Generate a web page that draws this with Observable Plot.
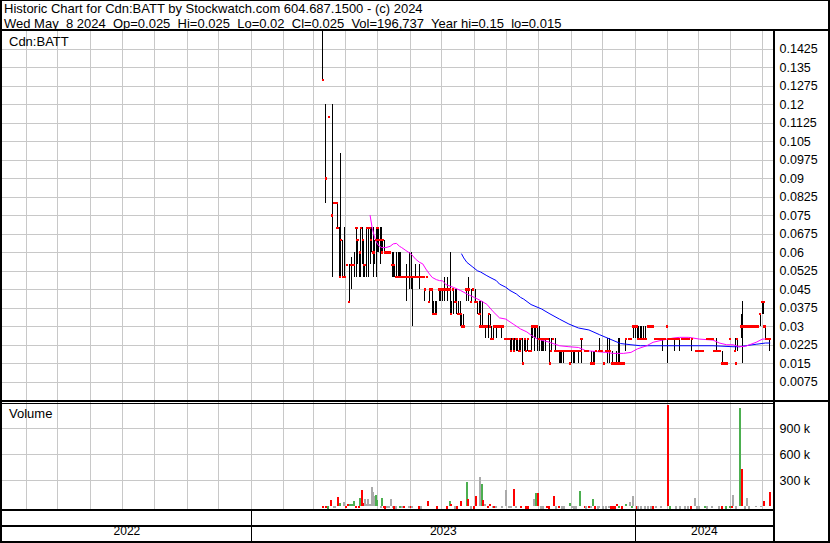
<!DOCTYPE html>
<html><head><meta charset="utf-8">
<script src="https://cdn.jsdelivr.net/npm/d3@7"></script>
<script src="https://cdn.jsdelivr.net/npm/@observablehq/plot@0.6"></script>
<style>
html,body{margin:0;padding:0;background:#fff;}
#chart{position:relative;width:830px;height:543px;overflow:hidden;font-family:Arial,"Liberation Sans",sans-serif;color:#000;background:#fff;}
#chart svg{position:absolute;left:0;top:0;}
.b{position:absolute;background:#000;z-index:5;}
.t{position:absolute;font-size:13px;line-height:15px;white-space:pre;z-index:6;}
</style></head><body>
<div id="chart">
<div class="t" style="left:4px;top:1px">Historic Chart for Cdn:BATT by Stockwatch.com 604.687.1500 - (c) 2024
Wed May  8 2024  Op=0.025  Hi=0.025  Lo=0.02  Cl=0.025  Vol=196,737  Year hi=0.15  lo=0.015</div>
<div class="t" style="left:9px;top:34px">Cdn:BATT</div>
<div class="t" style="left:9px;top:406px">Volume</div>
<div class="b" style="left:0;top:0;width:830px;height:1px"></div>
<div class="b" style="left:0;top:0;width:2px;height:543px"></div>
<div class="b" style="left:828px;top:0;width:2px;height:543px"></div>
<div class="b" style="left:0;top:541px;width:830px;height:2px"></div>
<div class="b" style="left:0;top:29px;width:830px;height:2px"></div>
<div class="b" style="left:773px;top:29px;width:2px;height:514px"></div>
<div class="b" style="left:0;top:400px;width:830px;height:2px"></div>
<div class="b" style="left:0;top:403px;width:773px;height:1px"></div>
<div class="b" style="left:0;top:509px;width:773px;height:2px"></div>
<div class="b" style="left:0;top:525px;width:773px;height:2px"></div>
</div>
<script>
// ---------- data ----------
const yTicks = [0.0075,0.015,0.0225,0.03,0.0375,0.045,0.0525,0.06,0.0675,0.075,0.0825,0.09,0.0975,0.105,0.1125,0.12,0.1275,0.135,0.1425];
const volTicks = [300000,600000,900000];
const yearLabels = ["2022","2023","2024"];
const yearStarts = ["2023-01-01","2024-01-01"];
const chartSpan = ["2022-05-09T12:00Z","2024-05-11T12:00Z"];

// [date, high, low, close]
const priceBars = [
["2023-03-10",.15,.13,.13],["2023-03-13",.12,.08,.09],["2023-03-16",.115,.115,.115],["2023-03-19",.12,.05,.075],
["2023-03-21",.08,.08,.08],["2023-03-23",.08,.08,.08],["2023-03-24",.08,.07,.07],["2023-03-26",.07,.05,.05],
["2023-03-27",.10,.05,.065],["2023-03-29",.065,.05,.05],["2023-03-31",.07,.05,.05],["2023-04-02",.055,.055,.055],
["2023-04-04",.055,.04,.04],["2023-04-06",.058,.045,.055],["2023-04-07",.055,.055,.055],["2023-04-09",.06,.05,.055],
["2023-04-11",.07,.05,.07],["2023-04-12",.065,.055,.065],["2023-04-14",.06,.05,.06],["2023-04-15",.07,.05,.07],
["2023-04-17",.07,.055,.065],["2023-04-18",.065,.05,.055],["2023-04-19",.055,.05,.055],["2023-04-21",.07,.05,.07],
["2023-04-22",.07,.05,.07],["2023-04-24",.07,.055,.07],["2023-04-25",.07,.06,.065],["2023-04-27",.07,.05,.06],
["2023-04-28",.065,.055,.06],["2023-04-30",.07,.05,.065],["2023-05-01",.07,.06,.07],["2023-05-02",.07,.06,.065],
["2023-05-04",.07,.055,.065],["2023-05-05",.07,.06,.06],["2023-05-06",.065,.06,.065],["2023-05-08",.065,.06,.06],
["2023-05-10",.06,.06,.06],["2023-05-11",.06,.06,.06],["2023-05-13",.06,.06,.06],["2023-05-15",.06,.05,.055],
["2023-05-16",.06,.05,.055],["2023-05-17",.055,.05,.055],["2023-05-19",.06,.05,.05],["2023-05-21",.06,.05,.05],
["2023-05-22",.06,.05,.05],["2023-05-23",.06,.05,.05],["2023-05-25",.05,.05,.05],["2023-05-27",.05,.05,.05],
["2023-05-29",.055,.04,.05],["2023-05-30",.05,.05,.05],["2023-05-31",.06,.045,.05],["2023-06-02",.06,.045,.05],
["2023-06-03",.05,.03,.05],["2023-06-05",.05,.05,.05],["2023-06-06",.055,.05,.05],["2023-06-08",.05,.05,.05],
["2023-06-10",.055,.045,.05],["2023-06-12",.05,.05,.05],["2023-06-14",.05,.05,.05],["2023-06-15",.045,.04,.045],
["2023-06-17",.05,.05,.05],["2023-06-19",.045,.04,.04],["2023-06-20",.045,.045,.045],["2023-06-22",.045,.035,.045],
["2023-06-23",.04,.035,.035],["2023-06-25",.04,.035,.035],["2023-06-26",.04,.035,.035],["2023-06-29",.045,.04,.045],
["2023-06-30",.045,.04,.045],["2023-07-02",.045,.04,.045],["2023-07-04",.05,.04,.045],["2023-07-05",.045,.045,.045],
["2023-07-07",.05,.04,.045],["2023-07-09",.06,.035,.045],["2023-07-10",.04,.035,.035],["2023-07-12",.045,.035,.045],
["2023-07-14",.045,.04,.04],["2023-07-15",.045,.035,.04],["2023-07-17",.04,.035,.035],["2023-07-19",.04,.03,.035],
["2023-07-20",.035,.03,.03],["2023-07-22",.035,.03,.03],["2023-07-24",.045,.045,.045],["2023-07-25",.045,.04,.045],
["2023-07-27",.05,.04,.045],["2023-07-29",.045,.04,.04],["2023-07-31",.045,.045,.045],["2023-08-02",.045,.04,.04],
["2023-08-04",.04,.035,.04],["2023-08-06",.04,.035,.035],["2023-08-07",.04,.03,.03],["2023-08-09",.04,.03,.03],
["2023-08-10",.03,.03,.03],["2023-08-12",.03,.025,.03],["2023-08-13",.03,.03,.03],["2023-08-15",.035,.025,.035],
["2023-08-16",.035,.03,.03],["2023-08-17",.03,.025,.025],["2023-08-19",.03,.025,.025],["2023-08-20",.03,.03,.03],
["2023-08-22",.03,.025,.03],["2023-08-23",.03,.03,.03],["2023-08-25",.03,.03,.03],["2023-08-27",.03,.025,.03],
["2023-08-28",.03,.03,.03],["2023-08-30",.025,.025,.025],["2023-08-31",.025,.025,.025],["2023-09-02",.025,.025,.025],
["2023-09-04",.025,.02,.025],["2023-09-05",.025,.02,.02],["2023-09-07",.025,.02,.025],["2023-09-08",.025,.02,.02],
["2023-09-10",.025,.02,.025],["2023-09-11",.025,.02,.025],["2023-09-13",.025,.02,.02],["2023-09-14",.025,.02,.025],
["2023-09-16",.025,.015,.015],["2023-09-18",.025,.02,.025],["2023-09-19",.025,.02,.02],["2023-09-21",.025,.02,.025],
["2023-09-22",.02,.02,.02],["2023-09-24",.03,.02,.02],["2023-09-25",.03,.025,.03],["2023-09-27",.03,.02,.03],
["2023-09-28",.03,.025,.03],["2023-09-30",.03,.02,.03],["2023-10-02",.03,.02,.025],["2023-10-04",.025,.02,.025],
["2023-10-05",.025,.02,.025],["2023-10-06",.025,.02,.025],["2023-10-08",.025,.02,.025],["2023-10-10",.025,.025,.025],
["2023-10-12",.025,.015,.015],["2023-10-13",.025,.02,.02],["2023-10-15",.025,.025,.025],["2023-10-17",.025,.02,.02],
["2023-10-19",.02,.02,.02],["2023-10-21",.02,.015,.02],["2023-10-22",.02,.015,.02],["2023-10-23",.02,.015,.02],
["2023-10-25",.02,.015,.02],["2023-10-26",.02,.02,.02],["2023-10-28",.02,.02,.02],["2023-10-30",.02,.02,.02],
["2023-10-31",.015,.015,.015],["2023-11-01",.02,.015,.02],["2023-11-03",.02,.015,.02],["2023-11-04",.02,.015,.02],
["2023-11-06",.02,.02,.02],["2023-11-08",.02,.015,.02],["2023-11-10",.02,.02,.02],["2023-11-11",.025,.015,.025],
["2023-11-14",.02,.02,.02],["2023-11-15",.02,.02,.02],["2023-11-17",.02,.02,.02],["2023-11-20",.02,.015,.015],
["2023-11-22",.02,.015,.015],["2023-11-23",.02,.015,.015],["2023-11-25",.02,.02,.02],["2023-11-28",.025,.02,.02],
["2023-11-30",.02,.02,.02],["2023-12-02",.015,.015,.015],["2023-12-04",.02,.02,.02],["2023-12-06",.025,.015,.02],
["2023-12-08",.025,.015,.02],["2023-12-10",.02,.015,.015],["2023-12-12",.015,.015,.015],["2023-12-14",.02,.015,.015],
["2023-12-16",.025,.015,.015],["2023-12-17",.025,.015,.015],["2023-12-19",.015,.015,.015],["2023-12-21",.015,.015,.015],
["2023-12-23",.025,.02,.025],["2023-12-26",.025,.025,.025],["2023-12-28",.025,.025,.025],["2023-12-30",.03,.025,.03],
["2024-01-01",.03,.025,.03],["2024-01-03",.03,.025,.03],["2024-01-04",.03,.025,.025],["2024-01-06",.03,.025,.025],
["2024-01-07",.03,.025,.025],["2024-01-09",.03,.025,.025],["2024-01-11",.03,.025,.025],["2024-01-13",.03,.03,.03],
["2024-01-15",.03,.03,.03],["2024-01-16",.03,.03,.03],["2024-01-18",.03,.03,.03],["2024-01-20",.025,.025,.025],
["2024-01-22",.025,.025,.025],["2024-01-24",.025,.025,.025],["2024-01-26",.025,.025,.025],["2024-01-27",.025,.02,.025],
["2024-01-29",.025,.025,.025],["2024-01-31",.03,.03,.03],["2024-02-01",.025,.015,.025],["2024-02-03",.025,.025,.025],
["2024-02-05",.025,.025,.025],["2024-02-07",.025,.02,.025],["2024-02-08",.025,.025,.025],["2024-02-10",.025,.025,.025],
["2024-02-12",.025,.02,.025],["2024-02-15",.025,.025,.025],["2024-02-17",.025,.025,.025],["2024-02-19",.025,.025,.025],
["2024-02-21",.025,.025,.025],["2024-02-24",.025,.02,.025],["2024-02-28",.02,.02,.02],["2024-03-01",.02,.02,.02],
["2024-03-03",.02,.02,.02],["2024-03-05",.02,.02,.02],["2024-03-09",.025,.025,.025],["2024-03-11",.025,.025,.025],
["2024-03-13",.025,.025,.025],["2024-03-15",.025,.025,.025],["2024-03-16",.02,.02,.02],["2024-03-18",.025,.02,.02],
["2024-03-20",.02,.02,.02],["2024-03-22",.02,.02,.02],["2024-03-24",.02,.015,.015],["2024-03-26",.015,.015,.015],
["2024-03-28",.015,.015,.015],["2024-03-31",.025,.025,.025],["2024-04-05",.025,.02,.02],["2024-04-06",.015,.015,.015],
["2024-04-07",.025,.02,.025],["2024-04-11",.035,.025,.03],["2024-04-12",.04,.015,.03],["2024-04-14",.03,.03,.03],
["2024-04-16",.03,.03,.03],["2024-04-18",.03,.03,.03],["2024-04-20",.03,.03,.03],["2024-04-22",.03,.03,.03],
["2024-04-23",.03,.03,.03],["2024-04-25",.03,.03,.03],["2024-04-27",.03,.03,.03],["2024-04-29",.035,.03,.035],
["2024-05-01",.04,.035,.04],["2024-05-02",.04,.035,.04],["2024-05-03",.03,.03,.03],["2024-05-04",.03,.025,.025],
["2024-05-06",.025,.025,.025],["2024-05-08",.025,.02,.025]
];

// short moving average (magenta) [date, value]
const maShort = [
["2023-04-24",.075],["2023-04-26",.0698],["2023-04-29",.065],["2023-05-02",.0628],["2023-05-05",.062],["2023-05-09",.062],
["2023-05-13",.0625],["2023-05-16",.0635],["2023-05-19",.0637],["2023-05-22",.0625],["2023-05-24",.062],["2023-05-28",.0608],
["2023-06-02",.0594],["2023-06-06",.0574],["2023-06-10",.056],["2023-06-13",.0554],["2023-06-16",.0533],["2023-06-19",.0515],
["2023-06-22",.0499],["2023-06-26",.049],["2023-06-29",.0486],["2023-07-02",.0485],["2023-07-05",.047],["2023-07-12",.0459],
["2023-07-19",.0446],["2023-07-25",.0432],["2023-08-01",.0418],["2023-08-07",.0405],["2023-08-13",.039],["2023-08-19",.036],
["2023-08-25",.0335],["2023-08-31",.033],["2023-09-07",.031],["2023-09-14",.029],["2023-09-20",.0278],["2023-09-24",.0265],
["2023-09-30",.0249],["2023-10-10",.0238],["2023-10-21",.0222],["2023-10-30",.0218],["2023-11-08",.0215],["2023-11-15",.0202],
["2023-11-21",.02],["2023-12-04",.0195],["2023-12-11",.0191],["2023-12-21",.0191],["2023-12-28",.0195],["2024-01-03",.0209],
["2024-01-12",.0222],["2024-01-18",.0236],["2024-01-27",.0245],["2024-02-06",.0253],["2024-02-12",.0256],["2024-02-21",.0256],
["2024-03-02",.0249],["2024-03-15",.0245],["2024-03-21",.0233],["2024-03-28",.0226],["2024-04-03",.0226],["2024-04-09",.0218],
["2024-04-15",.022],["2024-04-25",.0236],["2024-05-01",.0249],["2024-05-08",.0249]
];

// long moving average (blue) [date, value]
const maLong = [
["2023-07-20",.0594],["2023-07-22",.0578],["2023-07-25",.056],["2023-07-30",.0543],["2023-08-04",.0526],["2023-08-07",.0521],
["2023-08-13",.0506],["2023-08-16",.0499],["2023-08-22",.0486],["2023-08-25",.0472],["2023-08-31",.0459],["2023-09-04",.0446],
["2023-09-10",.0432],["2023-09-14",.0418],["2023-09-17",.0411],["2023-09-24",.0389],["2023-10-04",.0371],["2023-10-12",.0351],
["2023-10-21",.033],["2023-10-30",.031],["2023-11-08",.0294],["2023-11-18",.0286],["2023-11-28",.0267],["2023-12-08",.0249],
["2023-12-18",.0231],["2023-12-28",.0226],["2024-01-06",.0222],["2024-01-15",.0222],["2024-02-12",.0222],["2024-03-15",.0222],
["2024-04-03",.0218],["2024-04-09",.0218],["2024-04-15",.0222],["2024-04-25",.0228],["2024-05-04",.0233],["2024-05-08",.0233]
];

// [date, volume, direction]
const volumeBars = [
["2023-03-09",27000,"up"],["2023-03-10",5000,"down"],["2023-03-13",5000,"down"],["2023-03-15",3000,"up"],["2023-03-18",96000,"down"],
["2023-03-21",10000,"flat"],["2023-03-22",10000,"flat"],["2023-03-24",131000,"down"],["2023-03-26",62000,"up"],["2023-03-28",38000,"down"],
["2023-03-30",73000,"flat"],["2023-04-01",5000,"down"],["2023-04-03",50000,"down"],["2023-04-05",50000,"up"],["2023-04-07",54000,"up"],
["2023-04-09",85000,"up"],["2023-04-11",15000,"down"],["2023-04-13",8000,"down"],["2023-04-14",119000,"up"],["2023-04-15",119000,"up"],
["2023-04-16",219000,"down"],["2023-04-18",62000,"down"],["2023-04-19",112000,"flat"],["2023-04-21",54000,"flat"],["2023-04-22",112000,"flat"],
["2023-04-24",54000,"flat"],["2023-04-26",246000,"flat"],["2023-04-27",196000,"flat"],["2023-04-28",150000,"flat"],["2023-04-30",165000,"up"],
["2023-05-01",104000,"up"],["2023-05-03",35000,"down"],["2023-05-04",15000,"flat"],["2023-05-05",119000,"up"],["2023-05-07",5000,"down"],
["2023-05-08",3000,"down"],["2023-05-10",5000,"flat"],["2023-05-12",5000,"flat"],["2023-05-14",108000,"flat"],["2023-05-16",5000,"flat"],
["2023-05-17",3000,"down"],["2023-05-19",3000,"flat"],["2023-05-22",7000,"up"],["2023-05-24",15000,"flat"],["2023-05-26",5000,"down"],
["2023-05-28",27000,"up"],["2023-05-31",5000,"flat"],["2023-06-02",5000,"down"],["2023-06-03",5000,"flat"],["2023-06-09",3000,"down"],
["2023-06-11",3000,"flat"],["2023-06-18",88000,"down"],["2023-06-21",38000,"down"],["2023-06-24",38000,"flat"],["2023-06-27",3000,"down"],
["2023-07-03",31000,"up"],["2023-07-06",3000,"down"],["2023-07-09",85000,"up"],["2023-07-10",54000,"down"],["2023-07-14",3000,"flat"],
["2023-07-16",3000,"down"],["2023-07-19",85000,"down"],["2023-07-22",35000,"down"],["2023-07-23",27000,"flat"],["2023-07-25",315000,"up"],
["2023-07-26",108000,"down"],["2023-07-29",3000,"flat"],["2023-08-01",3000,"down"],["2023-08-03",142000,"down"],["2023-08-06",362000,"flat"],
["2023-08-08",281000,"up"],["2023-08-09",96000,"down"],["2023-08-11",54000,"flat"],["2023-08-12",27000,"flat"],["2023-08-14",5000,"down"],
["2023-08-16",54000,"down"],["2023-08-19",8000,"flat"],["2023-08-20",15000,"down"],["2023-08-22",5000,"flat"],["2023-08-25",35000,"down"],
["2023-08-27",15000,"flat"],["2023-08-29",31000,"down"],["2023-08-31",212000,"flat"],["2023-09-03",15000,"flat"],["2023-09-05",5000,"flat"],
["2023-09-08",223000,"down"],["2023-09-10",5000,"flat"],["2023-09-12",27000,"flat"],["2023-09-14",5000,"down"],["2023-09-16",27000,"up"],
["2023-09-19",3000,"down"],["2023-09-21",3000,"down"],["2023-09-24",31000,"up"],["2023-09-27",112000,"flat"],["2023-09-29",188000,"up"],
["2023-10-01",188000,"down"],["2023-10-03",3000,"flat"],["2023-10-05",3000,"flat"],["2023-10-09",5000,"down"],["2023-10-11",3000,"down"],
["2023-10-16",142000,"down"],["2023-10-18",3000,"flat"],["2023-10-21",5000,"down"],["2023-10-23",3000,"flat"],["2023-10-25",3000,"flat"],
["2023-10-31",62000,"up"],["2023-11-02",5000,"flat"],["2023-11-04",3000,"flat"],["2023-11-06",3000,"flat"],["2023-11-10",200000,"up"],
["2023-11-14",15000,"down"],["2023-11-15",3000,"flat"],["2023-11-18",15000,"down"],["2023-11-20",5000,"flat"],["2023-11-22",108000,"up"],
["2023-11-24",3000,"down"],["2023-11-27",3000,"flat"],["2023-11-28",5000,"flat"],["2023-12-01",3000,"flat"],["2023-12-04",3000,"flat"],
["2023-12-07",5000,"flat"],["2023-12-09",3000,"down"],["2023-12-11",3000,"down"],["2023-12-13",3000,"down"],["2023-12-15",50000,"down"],
["2023-12-17",5000,"up"],["2023-12-19",3000,"down"],["2023-12-23",50000,"up"],["2023-12-27",73000,"flat"],["2023-12-29",15000,"up"],
["2023-12-30",142000,"flat"],["2024-01-03",3000,"down"],["2024-01-04",3000,"flat"],["2024-01-07",2000,"flat"],["2024-01-10",2000,"flat"],
["2024-01-13",2000,"flat"],["2024-01-16",3000,"flat"],["2024-01-18",3000,"down"],["2024-01-21",5000,"flat"],["2024-01-24",35000,"flat"],
["2024-01-26",15000,"flat"],["2024-02-01",1200000,"down"],["2024-02-03",3000,"up"],["2024-02-07",38000,"down"],["2024-02-09",2000,"flat"],
["2024-02-13",2000,"flat"],["2024-02-17",2000,"flat"],["2024-02-20",2000,"flat"],["2024-02-23",2000,"down"],["2024-02-27",119000,"flat"],
["2024-02-29",3000,"flat"],["2024-03-02",2000,"flat"],["2024-03-07",5000,"up"],["2024-03-09",2000,"flat"],["2024-03-14",5000,"flat"],
["2024-03-18",27000,"flat"],["2024-03-21",3000,"flat"],["2024-03-24",3000,"down"],["2024-03-27",2000,"up"],["2024-03-31",5000,"up"],
["2024-04-02",5000,"down"],["2024-04-03",154000,"flat"],["2024-04-06",3000,"flat"],["2024-04-10",1158000,"up"],["2024-04-12",458000,"down"],
["2024-04-14",2000,"flat"],["2024-04-16",119000,"flat"],["2024-04-18",2000,"flat"],["2024-04-23",27000,"flat"],["2024-04-25",23000,"flat"],
["2024-04-28",27000,"flat"],["2024-04-30",23000,"flat"],["2024-05-02",85000,"down"],["2024-05-04",27000,"up"],["2024-05-08",197000,"down"]
];

// ---------- drawing ----------
const D = s => new Date(s);
const xDomain = chartSpan.map(D);
const months = d3.utcMonth.range(xDomain[0], xDomain[1]);
const bars = priceBars.map(([d,h,l,c]) => ({date: D(d), hi: h, lo: l, cl: c}));
const shortLine = maShort.map(([d,v]) => ({date: D(d), v}));
const longLine = maLong.map(([d,v]) => ({date: D(d), v}));
const vols = volumeBars.map(([d,v,dir]) => ({date: D(d), vol: v, dir}));
const fmtP = d => String(+d.toFixed(4));
const grid = "#c8c8c8";
const baseStyle = {background: "transparent", fontFamily: "Arial, 'Liberation Sans', sans-serif", fontSize: "12.5px", color: "#000", overflow: "visible"};
const common = {width: 830, height: 543, marginLeft: 2, marginRight: 57, style: baseStyle};
const xOpt = {type: "utc", domain: xDomain, axis: null};

const price = Plot.plot({
  ...common, marginTop: 30, marginBottom: 143,
  x: xOpt,
  y: {domain: [0, 0.15], axis: "right", ticks: yTicks, tickFormat: fmtP, tickSize: 0, tickPadding: 6, label: null},
  marks: [
    Plot.ruleY(yTicks, {stroke: grid, shapeRendering: "crispEdges"}),
    Plot.ruleX(months, {stroke: grid, shapeRendering: "crispEdges"}),
    Plot.ruleX(bars, {x: "date", y1: "lo", y2: "hi", stroke: "#000", strokeWidth: 1, shapeRendering: "crispEdges"}),
    Plot.line(longLine, {x: "date", y: "v", stroke: "#0000ff", strokeWidth: 1}),
    Plot.line(shortLine, {x: "date", y: "v", stroke: "#ff00ff", strokeWidth: 1}),
    Plot.dot(bars, {x: "date", y: "cl", symbol: "square", r: 1.2, fill: "#ff0000", stroke: "none", shapeRendering: "crispEdges"})
  ]
});

const volume = Plot.plot({
  ...common, marginTop: 402.3, marginBottom: 36.7,
  x: xOpt,
  y: {domain: [0, 1200000], axis: "right", ticks: volTicks, tickFormat: d => (d / 1000) + " k", tickSize: 0, tickPadding: 6, label: null},
  color: {domain: ["up", "down", "flat"], range: ["#4caf50", "#ff0000", "#aaaaaa"]},
  marks: [
    Plot.ruleY(volTicks, {stroke: grid, shapeRendering: "crispEdges"}),
    Plot.ruleX(months, {stroke: grid, insetBottom: -3, shapeRendering: "crispEdges"}),
    Plot.ruleX(vols, {x: "date", y1: 0, y2: "vol", stroke: "dir", strokeWidth: 2, insetBottom: -2.5, shapeRendering: "crispEdges"})
  ]
});

const bounds = [xDomain[0], ...yearStarts.map(D), xDomain[1]];
const yearText = yearLabels.map((t, i) => ({t, date: new Date((+bounds[i] + +bounds[i + 1]) / 2)}));
const band = Plot.plot({
  ...common, marginTop: 510, marginBottom: 2,
  x: xOpt,
  marks: [
    Plot.ruleX(yearStarts.map(D), {stroke: "#000", strokeWidth: 1, shapeRendering: "crispEdges"}),
    Plot.text(yearText, {x: "date", text: "t", frameAnchor: "bottom", dy: -7, fontSize: 12, fill: "#000"})
  ]
});

const chart = document.getElementById("chart");
[price, volume, band].forEach(p => chart.insertBefore(p, chart.firstChild.nextSibling));
</script>
</body></html>
